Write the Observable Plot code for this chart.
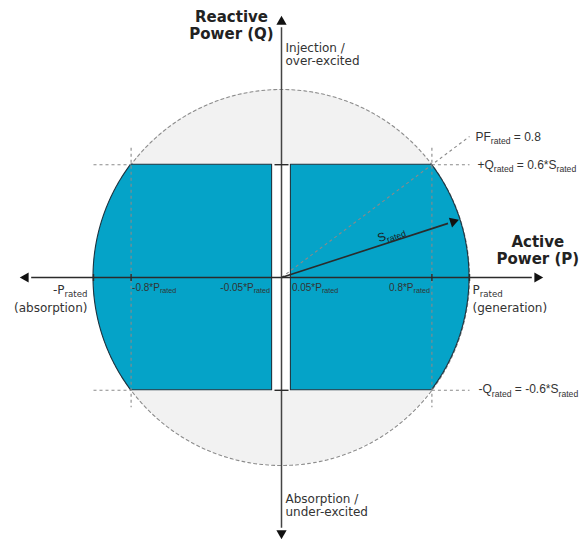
<!DOCTYPE html>
<html><head><meta charset="utf-8">
<script src="https://cdn.jsdelivr.net/npm/d3@7"></script>
<script src="https://cdn.jsdelivr.net/npm/@observablehq/plot@0.6"></script>
<style>body{margin:0;background:#fff} svg{display:block}</style>
</head><body><div id="chart"></div>
<script>
// ---- data (per-unit of S_rated) ----
const pRated = 1;              // |P| limit = S_rated
const qRatedFrac = 0.6;        // Q limit = 0.6 * S_rated
const pfRated = 0.8;           // rated power factor
const pMinFrac = 0.05;         // dead band around P = 0
const sArrowAngle = 18;        // direction of S_rated arrow (deg)
const axisExtent = 1.39;       // axis length in units of S_rated
const pTicks = [-1, -0.8, 0.8, 1];
const qTicks = [-0.6, 0.6];
const pTickLabels = ["-0.8*P_{rated}", "-0.05*P_{rated}", "0.05*P_{rated}", "0.8*P_{rated}"];
const pTickValues = [-0.8, -0.05, 0.05, 0.8];
const pTickAnchors = ["start", "end", "start", "end"];
const qAxisTitle = "Reactive\nPower (Q)";
const pAxisTitle = "Active\nPower (P)";
const qTopLabel = "Injection /\nover-excited";
const qBottomLabel = "Absorption /\nunder-excited";
const pLeftLabel = "-P_{rated}\n(absorption)";
const pRightLabel = "P_{rated}\n(generation)";
const pfLabel = "PF_{rated} = 0.8";
const qPlusLabel = "+Q_{rated} = 0.6*S_{rated}";
const qMinusLabel = "-Q_{rated} = -0.6*S_{rated}";
const sLabel = "S_{rated}";

// ---- geometry built from the values above ----
const deg = Math.PI / 180;
const W = 580, H = 539, ox = 281, oy = 277, R = 188;
const halfCircle = d3.range(0, 181, 1).map(a => ({x: pRated*Math.cos(a*deg), y1: -pRated*Math.sin(a*deg), y2: pRated*Math.sin(a*deg)}));
const fullCircle = d3.range(0, 361, 1).map(a => ({x: pRated*Math.cos(a*deg), y: pRated*Math.sin(a*deg)}));
const thetaQ = Math.asin(qRatedFrac);
const pCorner = pRated*Math.cos(thetaQ); // 0.8
const arcXs = d3.range(0, 101).map(i => pRated*Math.cos(thetaQ*i/100));
const xsRight = Array.from(new Set([pMinFrac, ...arcXs])).sort((a,b)=>a-b);
const blocks = [];
for (const s of [1, -1]) {
  const xs = s === 1 ? xsRight : xsRight.slice().reverse().map(v => -v);
  for (const x of xs) {
    const h = Math.min(qRatedFrac, Math.sqrt(Math.max(0, pRated*pRated - x*x)));
    blocks.push({side: s, x, y1: -h, y2: h});
  }
}
const pfDir = [pfRated, Math.sqrt(1 - pfRated*pfRated)];
const pfExt = 1.25;
const dashed = [
  {x1: -pRated, y1: qRatedFrac, x2: -pCorner, y2: qRatedFrac},
  {x1: pCorner, y1: qRatedFrac, x2: pRated, y2: qRatedFrac},
  {x1: -pRated, y1: -qRatedFrac, x2: -pCorner, y2: -qRatedFrac},
  {x1: pCorner, y1: -qRatedFrac, x2: pRated, y2: -qRatedFrac},
  {x1: -pCorner, y1: 0.69, x2: -pCorner, y2: -0.69},
  {x1: pCorner, y1: 0.69, x2: pCorner, y2: -0.69},
  {x1: 0, y1: 0, x2: pfDir[0]*pfExt, y2: pfDir[1]*pfExt}
];
const sTip = [0.99*Math.cos(sArrowAngle*deg), 0.99*Math.sin(sArrowAngle*deg)];
const headOff = 5.5 / R;
const heads = [
  {x: axisExtent - headOff, y: 0, rot: 90},
  {x: -axisExtent + headOff, y: 0, rot: -90},
  {x: 0, y: axisExtent - headOff, rot: 0},
  {x: 0, y: -axisExtent + headOff, rot: 180},
  {x: sTip[0] - headOff*Math.cos(sArrowAngle*deg), y: sTip[1] - headOff*Math.sin(sArrowAngle*deg), rot: 90 - sArrowAngle}
];
const tickLen = 3.5 / R;
const tickMarks = [
  ...pTicks.map(p => ({x1: p, x2: p, y1: -tickLen, y2: tickLen})),
  ...qTicks.map(q => ({x1: -2*tickLen, x2: 2*tickLen, y1: q, y2: q}))
];
const tickLabelData = pTickValues.map((v, i) => ({x: v, text: pTickLabels[i], anchor: pTickAnchors[i]}));

const fA = "DejaVu Sans, Verdana, sans-serif";
const fB = "Liberation Sans, Arial, sans-serif";
const ink = "#2b2b2b";
const blue = "#05a3c8";

const chart = Plot.plot({
  width: W, height: H, margin: 0,
  x: {domain: [-ox/R, (W-ox)/R], axis: null},
  y: {domain: [-(H-oy)/R, oy/R], axis: null},
  marks: [
    Plot.areaY(halfCircle, {x: "x", y1: "y1", y2: "y2", fill: "#f2f2f2"}),
    Plot.line(fullCircle, {x: "x", y: "y", stroke: "#8c8c8c", strokeWidth: 1.1, strokeDasharray: "3,3"}),
    Plot.rect([0], {x1: -pMinFrac, x2: pMinFrac, y1: -qRatedFrac, y2: qRatedFrac, fill: "white"}),
    Plot.areaY(blocks, {x: "x", y1: "y1", y2: "y2", z: "side", fill: blue, stroke: "#1e3440", strokeWidth: 1.1}),
    Plot.link(dashed, {x1: "x1", y1: "y1", x2: "x2", y2: "y2", stroke: "#8a8a8a", strokeWidth: 1.1, strokeDasharray: "3,3"}),
    Plot.link([0], {x1: -axisExtent + 2*headOff, x2: axisExtent - 2*headOff, y1: 0, y2: 0, stroke: ink, strokeWidth: 1.6}),
    Plot.link([0], {x1: 0, x2: 0, y1: -axisExtent + 2*headOff, y2: axisExtent - 2*headOff, stroke: "#444", strokeWidth: 1.5}),
    Plot.link([0], {x1: 0, y1: 0, x2: sTip[0] - 2*headOff*Math.cos(sArrowAngle*deg), y2: sTip[1] - 2*headOff*Math.sin(sArrowAngle*deg), stroke: ink, strokeWidth: 1.6}),
    Plot.dot(heads, {x: "x", y: "y", rotate: "rot", symbol: "triangle", r: 3.8, fill: "#111", stroke: "none"}),
    Plot.link(tickMarks, {x1: "x1", y1: "y1", x2: "x2", y2: "y2", stroke: ink, strokeWidth: 1.4}),
    // titles
    Plot.text([qAxisTitle], {x: 0, y: axisExtent, text: d => d, textAnchor: "middle", lineAnchor: "bottom", dx: -50, dy: 23, lineHeight: 1.12, fontSize: 15, fontWeight: "bold", fontFamily: fA, fill: "#222"}),
    Plot.text([pAxisTitle], {x: axisExtent, y: 0, text: d => d, textAnchor: "middle", lineAnchor: "bottom", dx: -5, dy: -14, lineHeight: 1.12, fontSize: 15, fontWeight: "bold", fontFamily: fA, fill: "#222"}),
    Plot.text([qTopLabel], {x: 0, y: axisExtent, text: d => d, textAnchor: "start", lineAnchor: "bottom", dx: 4, dy: 49, lineHeight: 1.1, fontSize: 12, fontFamily: fA, fill: "#333"}),
    Plot.text([qBottomLabel], {x: 0, y: -axisExtent, text: d => d, textAnchor: "start", lineAnchor: "bottom", dx: 4, dy: -23, lineHeight: 1.1, fontSize: 12, fontFamily: fA, fill: "#333"}),
    Plot.text([pLeftLabel], {x: -pRated, y: 0, text: d => d, textAnchor: "end", lineAnchor: "bottom", dx: -6, dy: 31, lineHeight: 1.25, fontSize: 12, fontFamily: fA, fill: "#333"}),
    Plot.text([pRightLabel], {x: pRated, y: 0, text: d => d, textAnchor: "start", lineAnchor: "bottom", dx: 3, dy: 31, lineHeight: 1.25, fontSize: 12, fontFamily: fA, fill: "#333"}),
    Plot.text(tickLabelData.filter(d => d.anchor === "start"), {x: "x", y: 0, text: "text", textAnchor: "start", lineAnchor: "bottom", dx: 1, dy: 13, fontSize: 10, fontFamily: fB, fill: "#333"}),
    Plot.text(tickLabelData.filter(d => d.anchor === "end"), {x: "x", y: 0, text: "text", textAnchor: "end", lineAnchor: "bottom", dx: -2, dy: 13, fontSize: 10, fontFamily: fB, fill: "#333"}),
    Plot.text([pfLabel], {x: pfDir[0]*pfExt, y: pfDir[1]*pfExt, text: d => d, textAnchor: "start", lineAnchor: "bottom", dx: 6, dy: 4, fontSize: 12, fontFamily: fB, fill: "#333"}),
    Plot.text([qPlusLabel], {x: pRated, y: qRatedFrac, text: d => d, textAnchor: "start", lineAnchor: "bottom", dx: 8, dy: 4, fontSize: 12, fontFamily: fB, fill: "#333"}),
    Plot.text([qMinusLabel], {x: pRated, y: -qRatedFrac, text: d => d, textAnchor: "start", lineAnchor: "bottom", dx: 9, dy: 3, fontSize: 12, fontFamily: fB, fill: "#333"}),
    Plot.text([sLabel], {x: 0.62*Math.cos(sArrowAngle*deg), y: 0.62*Math.sin(sArrowAngle*deg), text: d => d, textAnchor: "middle", lineAnchor: "bottom", rotate: -sArrowAngle - 2, dy: -4, fontSize: 12, fontFamily: fB, fill: "#1a1a1a"})
  ]
});
document.getElementById("chart").appendChild(chart);

// subscripts: turn "X_{sub}" into tspans
function applySubs(root) {
  const els = Array.from(root.querySelectorAll("text, tspan"));
  for (const el of els) {
    for (const n of Array.from(el.childNodes)) {
      if (n.nodeType !== 3 || !n.nodeValue.includes("_{")) continue;
      const fs = parseFloat(getComputedStyle(el).fontSize) || 12;
      const shift = fs * 0.28;
      const parts = n.nodeValue.split(/(_\{[^}]*\})/).filter(s => s.length);
      const frag = document.createDocumentFragment();
      let down = false;
      for (const part of parts) {
        const t = document.createElementNS("http://www.w3.org/2000/svg", "tspan");
        if (part.startsWith("_{")) {
          t.textContent = part.slice(2, -1);
          t.setAttribute("font-size", (fs * 0.72).toFixed(2));
          if (!down) { t.setAttribute("dy", shift.toFixed(2)); down = true; }
        } else {
          t.textContent = part;
          if (down) { t.setAttribute("dy", (-shift).toFixed(2)); down = false; }
        }
        frag.appendChild(t);
      }
      el.replaceChild(frag, n);
    }
  }
}
applySubs(chart);
</script>
</body></html>
